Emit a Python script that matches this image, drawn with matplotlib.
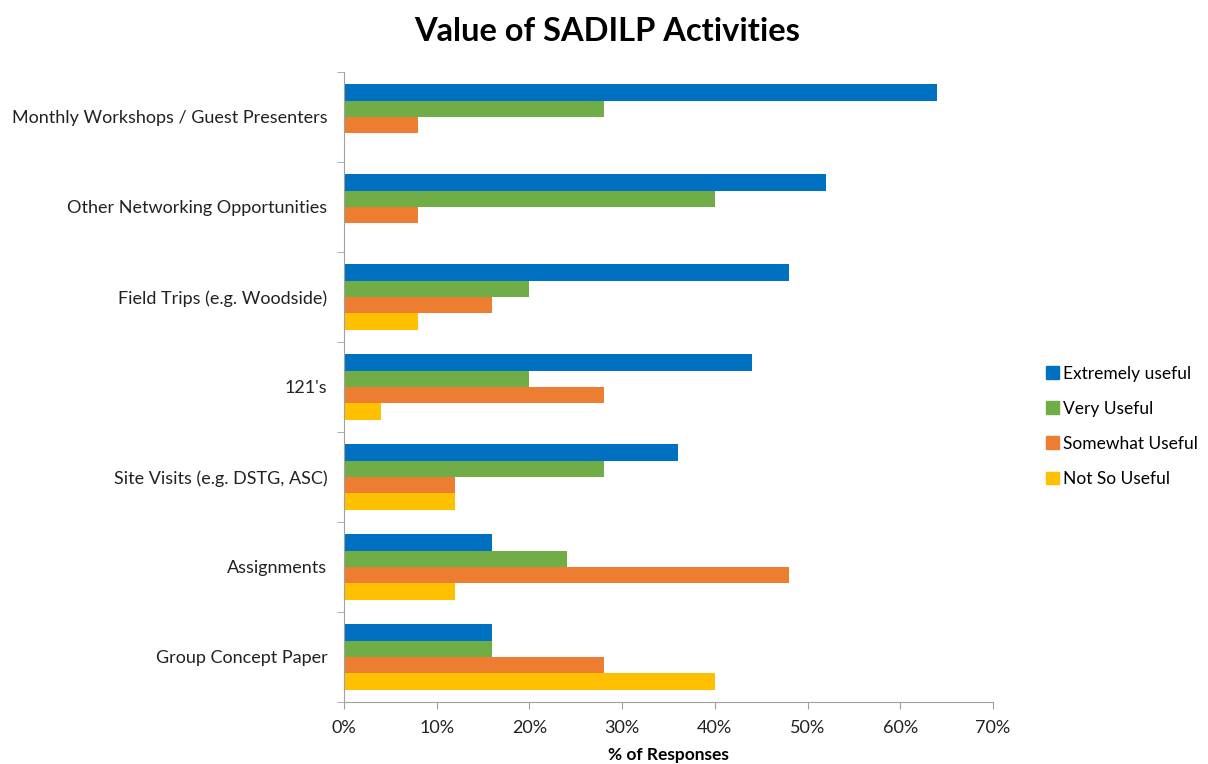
import numpy as np
import matplotlib.pyplot as plt
from matplotlib.ticker import FixedLocator, PercentFormatter
from matplotlib.patches import Patch

plt.rcParams['font.family'] = ['Lato', 'DejaVu Sans']

# Activities (top to bottom) and % of responses per rating
activities = ["Monthly Workshops / Guest Presenters", "Other Networking Opportunities",
              "Field Trips (e.g. Woodside)", "121's", "Site Visits (e.g. DSTG, ASC)",
              "Assignments", "Group Concept Paper"]
extremely = [64, 52, 48, 44, 36, 16, 16]
very = [28, 40, 20, 20, 28, 24, 16]
somewhat = [8, 8, 16, 28, 12, 48, 28]
not_so = [0, 0, 8, 4, 12, 12, 40]

series = [("Extremely useful", extremely, "#0070C0"),
          ("Very Useful", very, "#70AD47"),
          ("Somewhat Useful", somewhat, "#ED7D31"),
          ("Not So Useful", not_so, "#FFC000")]

fig = plt.figure(figsize=(12.08, 7.64), dpi=100)
ax = fig.add_axes([0.2848, 0.0812, 0.8220 - 0.2848, 0.9058 - 0.0812])

n = len(activities)
y = np.arange(n)
h = 0.182
for i, (name, vals, col) in enumerate(series):
    ax.barh(y + (i - 1.5) * h, vals, height=h, color=col, label=name)

ax.set_ylim(n - 0.5, -0.5)
ax.set_xlim(0, 70)
ax.set_yticks(y)
ax.set_yticklabels(activities, fontsize=13, color="#222222")
ax.yaxis.set_minor_locator(FixedLocator(np.arange(-0.5, n, 1)))
ax.tick_params(axis='y', which='major', length=0, pad=18 - 6)
ax.tick_params(axis='y', which='minor', length=5, color="#A0A0A0")
ax.set_xticks(np.arange(0, 71, 10))
ax.xaxis.set_major_formatter(PercentFormatter(decimals=0))
ax.tick_params(axis='x', length=5, color="#A0A0A0", labelsize=13, labelcolor="#222222", pad=8)

for s in ["top", "right"]:
    ax.spines[s].set_visible(False)
for s in ["left", "bottom"]:
    ax.spines[s].set_color("#A0A0A0")

ax.set_xlabel("% of Responses", fontsize=12.5, fontweight="bold", labelpad=8)
fig.suptitle("Value of SADILP Activities", fontsize=23.5, fontweight="bold", x=0.503, y=0.978)

handles = [Patch(color=c, label=nm) for nm, _, c in series]
fig.legend(handles=handles, loc="center left", bbox_to_anchor=(0.853, 0.442),
           frameon=False, fontsize=12.5, handlelength=0.75, handleheight=0.75,
           handletextpad=0.25, labelspacing=1.1)

fig.savefig("out.png", dpi=100)
